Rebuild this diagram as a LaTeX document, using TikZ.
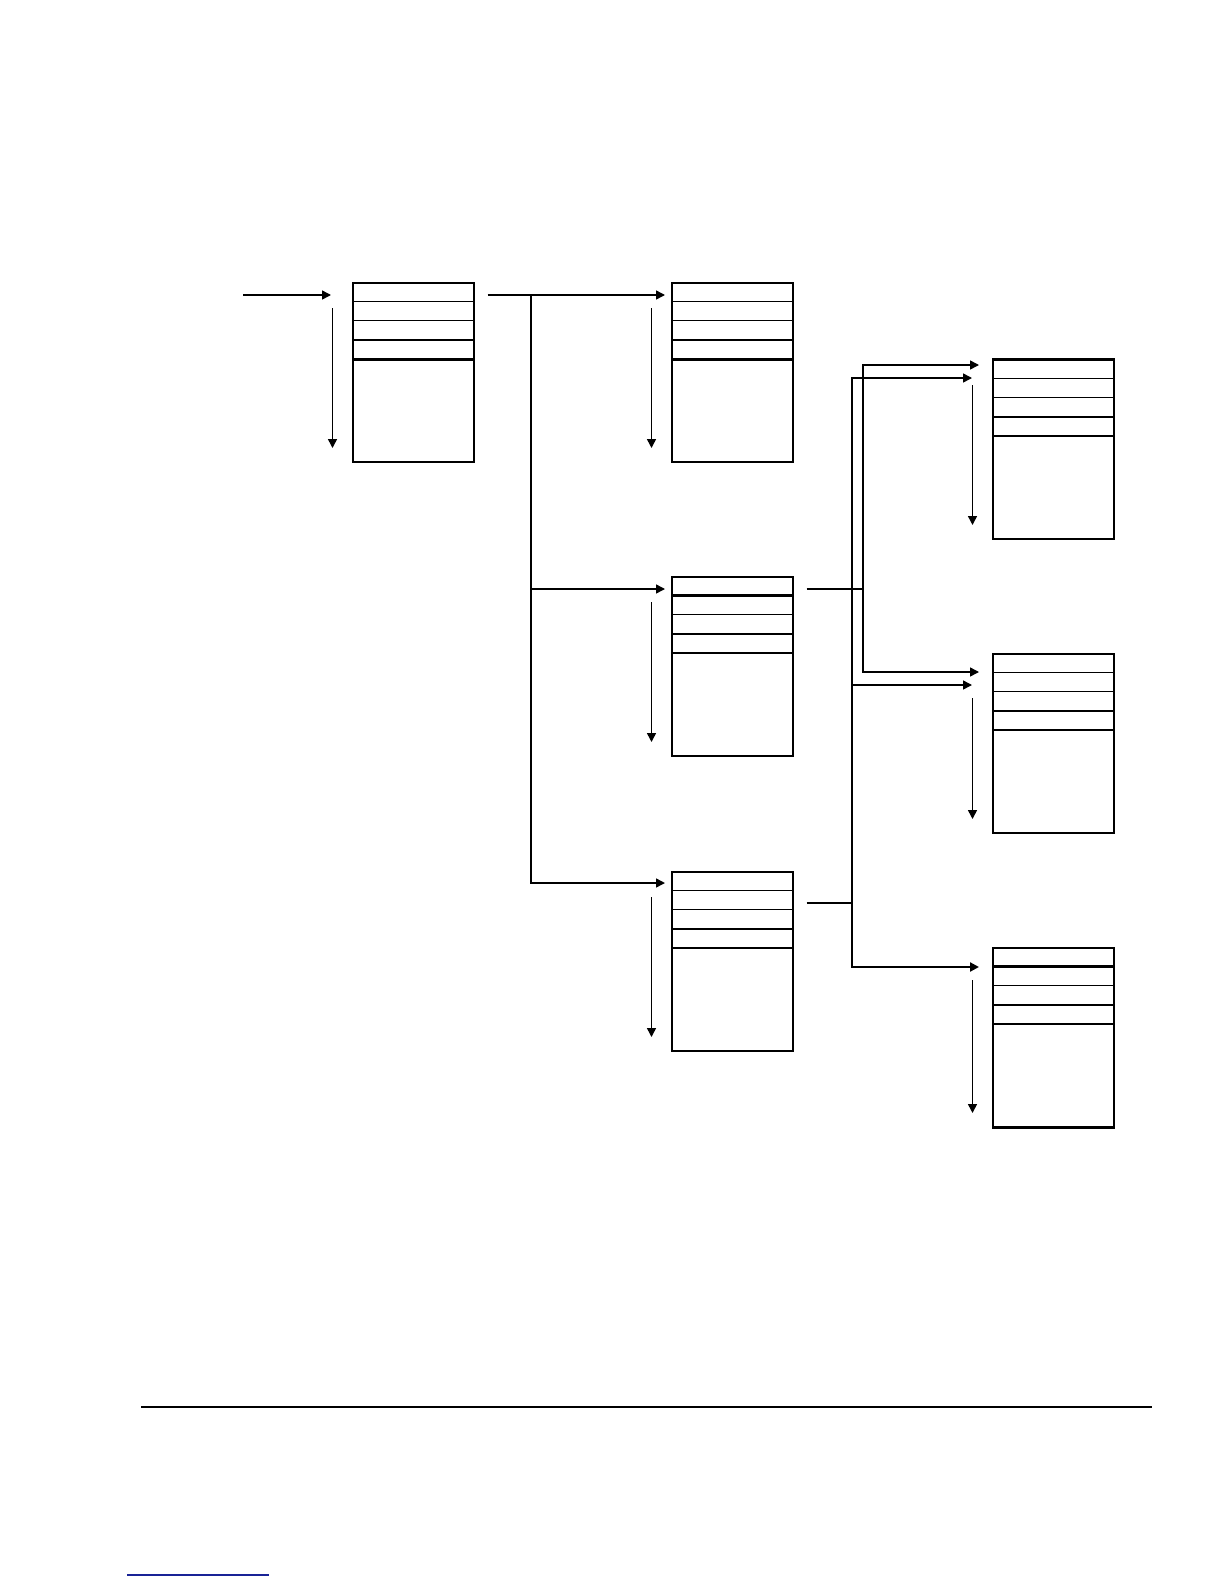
\documentclass[tikz,border=0pt]{standalone}
\usepackage{tikz}
\usetikzlibrary{arrows.meta,calc}

\definecolor{linkblue}{RGB}{25,35,150}

\begin{document}
\begin{tikzpicture}[x=0.5pt,y=-0.5pt,
    regbox/.style={draw, line width=0.8pt, rectangle, inner sep=0pt, anchor=north west,
                   minimum width=60.5pt, minimum height=89.5pt},
    wire/.style={line width=0.75pt},
    heavy/.style={line width=1.5pt},
    arr/.style={line width=0.75pt, -{Triangle[length=4.5pt,width=4.5pt]}}]

    % Page size (pixel units, y grows downwards)
    \useasboundingbox (0,0) rectangle (1224,1584);

    % The seven boxes: source, middle column, right column
    \node[regbox] (B1) at (352,282) {};
    \node[regbox] (B2) at (671,282) {};
    \node[regbox] (B3) at (671,576) {};
    \node[regbox] (B4) at (671,871) {};
    \node[regbox] (R1) at (992,359) {};
    \node[regbox] (R2) at (992,653) {};
    \node[regbox] (R3) at (992,947) {};

    % Four header rows in every box
    \foreach \b in {B1,B2,B3,B4,R1,R2,R3}
        \foreach \k in {1,2,3,4}
            \draw[wire] ($(\b.north west)+(0,19.3*\k)$) -- ($(\b.north east)+(0,19.3*\k)$);

    % Heavier rules as printed
    \draw[heavy] ($(B1.north west)+(0,77.2)$) -- ($(B1.north east)+(0,77.2)$);
    \draw[heavy] ($(B2.north west)+(0,77.2)$) -- ($(B2.north east)+(0,77.2)$);
    \draw[heavy] ($(B3.north west)+(0,19.3)$) -- ($(B3.north east)+(0,19.3)$);
    \draw[heavy] (R1.north west) -- (R1.north east);
    \draw[heavy] ($(R3.north west)+(0,19.3)$) -- ($(R3.north east)+(0,19.3)$);
    \draw[heavy] (R3.south west) -- (R3.south east);

    % Junction points of the connectors
    \coordinate (in) at (243,295);
    \coordinate (split) at (531,295);
    \coordinate (jA) at (863,589);
    \coordinate (jB) at (852,903);

    % Input arrow and fan-out to the middle column
    \draw[arr] (in) -- ($(B1.north west)+(-21,13)$);
    \draw[wire] ($(B1.north east)+(13,13)$) -- (split);
    \draw[arr] (split) -- ($(B2.north west)+(-6,13)$);
    \draw[arr] (split) |- ($(B3.north west)+(-6,13)$);
    \draw[arr] (split) |- ($(B4.north west)+(-6,12)$);

    % From the third box to the right column
    \draw[wire] ($(B3.north east)+(13,13)$) -- (jA);
    \draw[arr] (jA) |- ($(R1.north west)+(-13,6)$);
    \draw[arr] (jA) |- ($(R2.north west)+(-13,19)$);

    % From the fourth box to the right column
    \draw[wire] ($(B4.north east)+(13,32)$) -- (jB);
    \draw[arr] (jB) |- ($(R1.north west)+(-20,19)$);
    \draw[arr] (jB) |- ($(R2.north west)+(-20,32)$);
    \draw[arr, line width=1.3pt] (jB) |- ($(R3.north west)+(-13,20)$);

    % Downward arrows beside every box
    \foreach \b/\s in {B1/26,B2/26,B3/26,B4/26,R1/26,R2/45,R3/33}
        \draw[arr] ($(\b.north west)+(-19.5,\s)$) -- ($(\b.north west)+(-19.5,166)$);

    % Footer rule and link underline
    \draw[line width=1.1pt] (141,1407) -- (1152,1407);
    \draw[linkblue, line width=1pt] (127,1575) -- (269,1575);

\end{tikzpicture}
\end{document}
